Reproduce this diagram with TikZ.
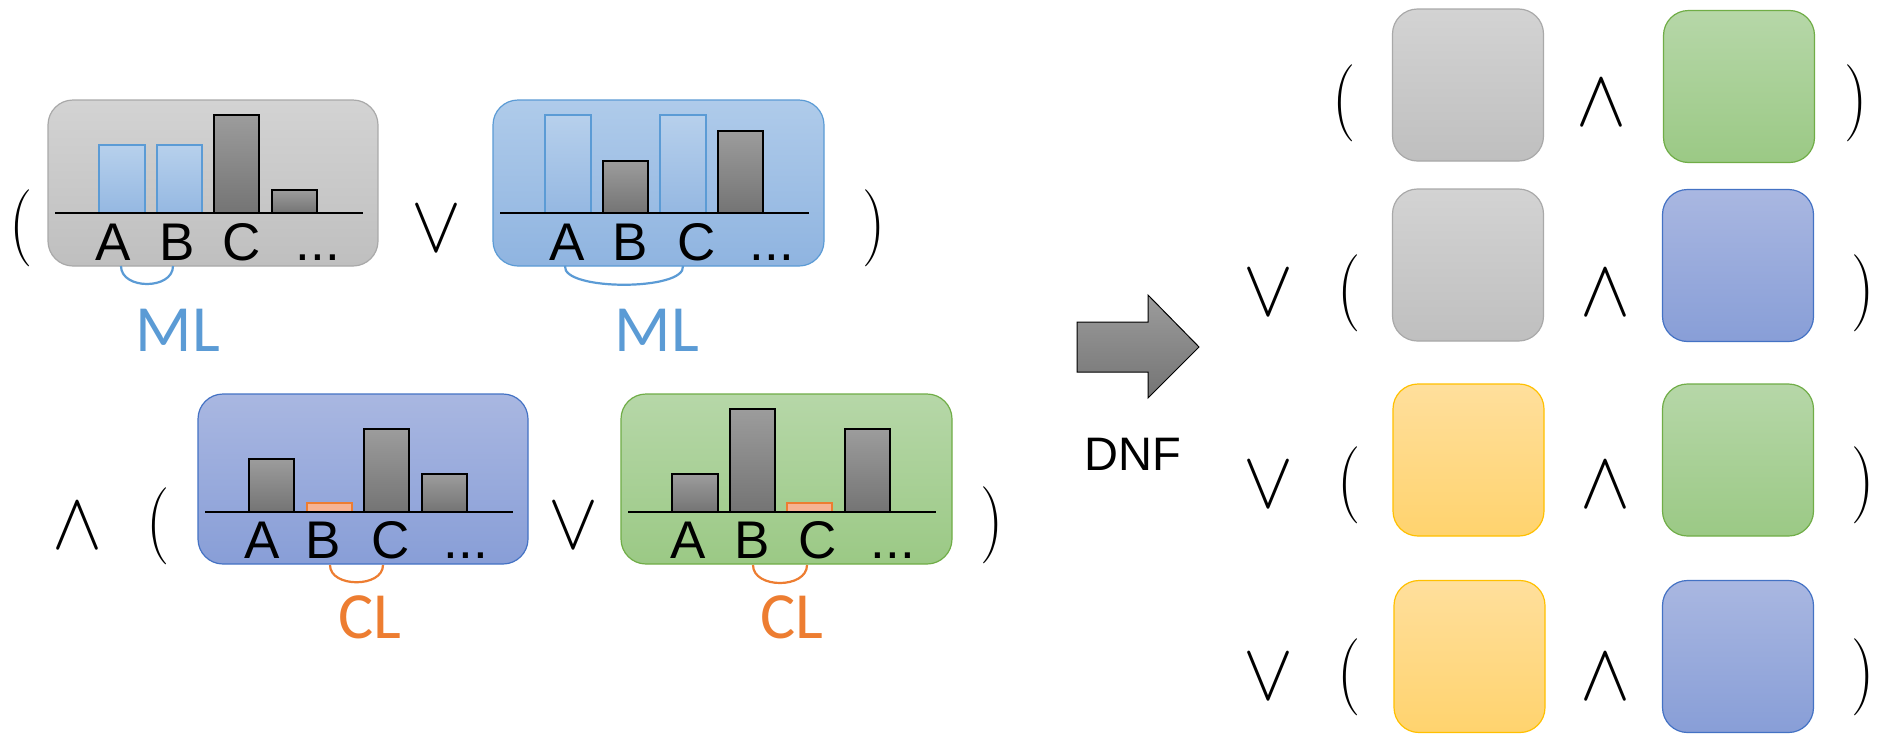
\documentclass[tikz,border=0pt]{standalone}
\usepackage{fontspec}
\usepackage{graphicx}
\newfontfamily\arialf{Liberation Sans}
\newfontfamily\calf{Carlito}
\newfontfamily\lmxvii{lmroman17-regular.otf}
\definecolor{gbTop}{HTML}{D3D3D3}
\definecolor{gbBot}{HTML}{BFBFBF}
\definecolor{gbLine}{HTML}{A9A9A9}
\definecolor{lbTop}{HTML}{AFCBEA}
\definecolor{lbBot}{HTML}{8FB4E0}
\definecolor{lbLine}{HTML}{5B9BD5}
\definecolor{pbTop}{HTML}{A9B7E1}
\definecolor{pbBot}{HTML}{889ED7}
\definecolor{pbLine}{HTML}{4472C4}
\definecolor{grTop}{HTML}{B6D7A8}
\definecolor{grBot}{HTML}{9BC985}
\definecolor{grLine}{HTML}{70AD47}
\definecolor{yeTop}{HTML}{FFDF9C}
\definecolor{yeBot}{HTML}{FFD36E}
\definecolor{yeLine}{HTML}{FFC000}
\definecolor{barTop}{HTML}{9C9C9C}
\definecolor{barBot}{HTML}{747474}
\definecolor{orFill}{HTML}{F6B393}
\definecolor{orLine}{HTML}{ED7D31}
\newcommand{\myLP}{\scalebox{0.85}[1]{\resizebox*{!}{77pt}{\lmxvii\fontsize{17}{20}\selectfont(}}}
\newcommand{\myRP}{\scalebox{0.85}[1]{\resizebox*{!}{77pt}{\lmxvii\fontsize{17}{20}\selectfont)}}}
\newcommand{\myAnd}{\resizebox{50pt}{45pt}{$\wedge$}}
\newcommand{\myOr}{\resizebox{50pt}{45pt}{$\vee$}}
\newcommand{\tdots}{.{}.{}.}
\tikzset{
  rbox/.style={rectangle, rounded corners=25pt, inner sep=0pt, line width=1.2pt},
  graybox/.style={rbox, top color=gbTop, bottom color=gbBot, draw=gbLine},
  lbbox/.style={rbox, top color=lbTop, bottom color=lbBot, draw=lbLine},
  pbbox/.style={rbox, top color=pbTop, bottom color=pbBot, draw=pbLine},
  grbox/.style={rbox, top color=grTop, bottom color=grBot, draw=grLine},
  yebox/.style={rbox, top color=yeTop, bottom color=yeBot, draw=yeLine},
  smallbox/.style={minimum width=151pt, minimum height=152pt},
  graybar/.style={draw=black, line width=1.3pt, top color=barTop, bottom color=barBot},
  bluebar/.style={draw=lbLine, line width=1.3pt, top color=lbTop!90!white, bottom color=lbBot!95!white},
  orbar/.style={draw=orLine, line width=1.3pt, fill=orFill},
  axisline/.style={line width=2.8pt, black},
  lbl/.style={anchor=base, inner sep=0pt, font=\arialf\fontsize{53}{60}\selectfont},
  sym/.style={inner sep=0pt, anchor=center},
  mltext/.style={anchor=base, inner sep=0pt, text=lbLine, font=\calf\fontsize{66}{74}\selectfont},
  cltext/.style={anchor=base, inner sep=0pt, text=orLine, font=\calf\fontsize{66}{74}\selectfont},
  mlarc/.style={draw=lbLine, line width=2.2pt},
  clarc/.style={draw=orLine, line width=2.2pt},
}
\begin{document}
\begin{tikzpicture}[x=1pt,y=-1pt]
\useasboundingbox[fill=white] (0,0) rectangle (1879,734);

% ---------- left big boxes ----------
\node[graybox, minimum width=330pt, minimum height=166pt] (g1) at (213,183) {};
\node[lbbox, minimum width=331pt, minimum height=166pt] (b1) at (658.5,183) {};
\node[pbbox, minimum width=330pt, minimum height=170pt] (p1) at (363,479) {};
\node[grbox, minimum width=331pt, minimum height=170pt] (gr1) at (786.5,479) {};

% bars box 1
\draw[bluebar] (99,145) rectangle (145,213);
\draw[bluebar] (157,145) rectangle (202,213);
\draw[graybar] (214,115) rectangle (259,213);
\draw[graybar] (272,190) rectangle (317,213);
\draw[axisline] (55,213) -- (363,213);
% bars box 2
\draw[bluebar] (545,115) rectangle (591,213);
\draw[graybar] (603,161) rectangle (648,213);
\draw[bluebar] (660,115) rectangle (706,213);
\draw[graybar] (718,131) rectangle (763,213);
\draw[axisline] (500,213) -- (809,213);
% bars box 3
\draw[graybar] (249,459) rectangle (294,512);
\draw[orbar] (307,503) rectangle (352,512);
\draw[graybar] (364,429) rectangle (409,512);
\draw[graybar] (422,474) rectangle (467,512);
\draw[axisline] (205,512) -- (513,512);
% bars box 4
\draw[graybar] (672,474) rectangle (718,512);
\draw[graybar] (730,409) rectangle (775,512);
\draw[orbar] (787,503) rectangle (832,512);
\draw[graybar] (845,429) rectangle (890,512);
\draw[axisline] (628,512) -- (936,512);

% labels
\foreach \n/\t/\x/\y in {a1/A/113/260, b1l/B/177/260, c1/C/242/260, d1/\tdots/318/260,
  a2/A/567/260, b2l/B/630/260, c2/C/697/260, d2/\tdots/772/260,
  a3/A/262/558, b3l/B/323/558, c3/C/391/558, d3/\tdots/466/558,
  a4/A/688/558, b4l/B/752/558, c4/C/818/558, d4/\tdots/893/558}
  \node[lbl] (\n) at (\x,\y) {\t};

% ML / CL arcs
\coordinate (m1s) at (121,266); \coordinate (m1e) at (173,266);
\coordinate (m2s) at (565,266); \coordinate (m2e) at (683,266);
\coordinate (c1s) at (330,565); \coordinate (c1e) at (383,565);
\coordinate (c2s) at (753,565); \coordinate (c2e) at (807,565);
\draw[mlarc] (m1s) .. controls +(0,24) and +(0,24) .. (m1e);
\draw[mlarc] (m2s) .. controls +(-3,25) and +(3,25) .. (m2e);
\draw[clarc] (c1s) .. controls +(0,23) and +(0,23) .. (c1e);
\draw[clarc] (c2s) .. controls +(0,24) and +(0,24) .. (c2e);
\node[mltext] (ml1) at (178,351) {ML};
\node[mltext] (ml2) at (657,351) {ML};
\node[cltext] (cl1) at (370,638) {CL};
\node[cltext] (cl2) at (792,638) {CL};

% left parens and operators
\node[sym] (lp1) at (21.5,228.5) {\myLP};
\node[sym] (or1) at (437,228.5) {\myOr};
\node[sym] (rp1) at (874,228.5) {\myRP};
\node[sym] (and1) at (77.5,525.5) {\myAnd};
\node[sym] (lp2) at (158,526) {\myLP};
\node[sym] (or2) at (574,525.5) {\myOr};
\node[sym] (rp2) at (992,525.5) {\myRP};

% arrow and DNF
\path[draw=black, line width=1pt, top color=barTop, bottom color=barBot]
  (1077,322) -- (1148,322) -- (1148,295) -- (1199,347) -- (1148,398) -- (1148,372) -- (1077,372) -- cycle;
\node[anchor=base, inner sep=0pt, font=\arialf\fontsize{47}{54}\selectfont] (dnf) at (1133,470) {DNF};

% ---------- right side ----------
\node[graybox, smallbox] (r1a) at (1468,85) {};
\node[grbox, smallbox] (r1b) at (1739,86.5) {};
\node[graybox, smallbox] (r2a) at (1468,265) {};
\node[pbbox, smallbox] (r2b) at (1738,265.5) {};
\node[yebox, smallbox] (r3a) at (1468.5,460) {};
\node[grbox, smallbox] (r3b) at (1738,460) {};
\node[yebox, smallbox] (r4a) at (1469.5,656.5) {};
\node[pbbox, smallbox] (r4b) at (1738,656.5) {};

\node[sym] (rlp1) at (1344,103) {\myLP};
\node[sym] (rand1) at (1601,102.5) {\myAnd};
\node[sym] (rrp1) at (1856.5,103) {\myRP};

\node[sym] (ror2) at (1268.5,292.5) {\myOr};
\node[sym] (rlp2) at (1349,293.5) {\myLP};
\node[sym] (rand2) at (1605.5,292.5) {\myAnd};
\node[sym] (rrp2) at (1863,293.5) {\myRP};

\node[sym] (ror3) at (1268.5,485) {\myOr};
\node[sym] (rlp3) at (1349,485) {\myLP};
\node[sym] (rand3) at (1605.5,485) {\myAnd};
\node[sym] (rrp3) at (1863,485) {\myRP};

\node[sym] (ror4) at (1268.5,676.5) {\myOr};
\node[sym] (rlp4) at (1349,677) {\myLP};
\node[sym] (rand4) at (1605.5,676.5) {\myAnd};
\node[sym] (rrp4) at (1863,677) {\myRP};
\end{tikzpicture}
\end{document}
